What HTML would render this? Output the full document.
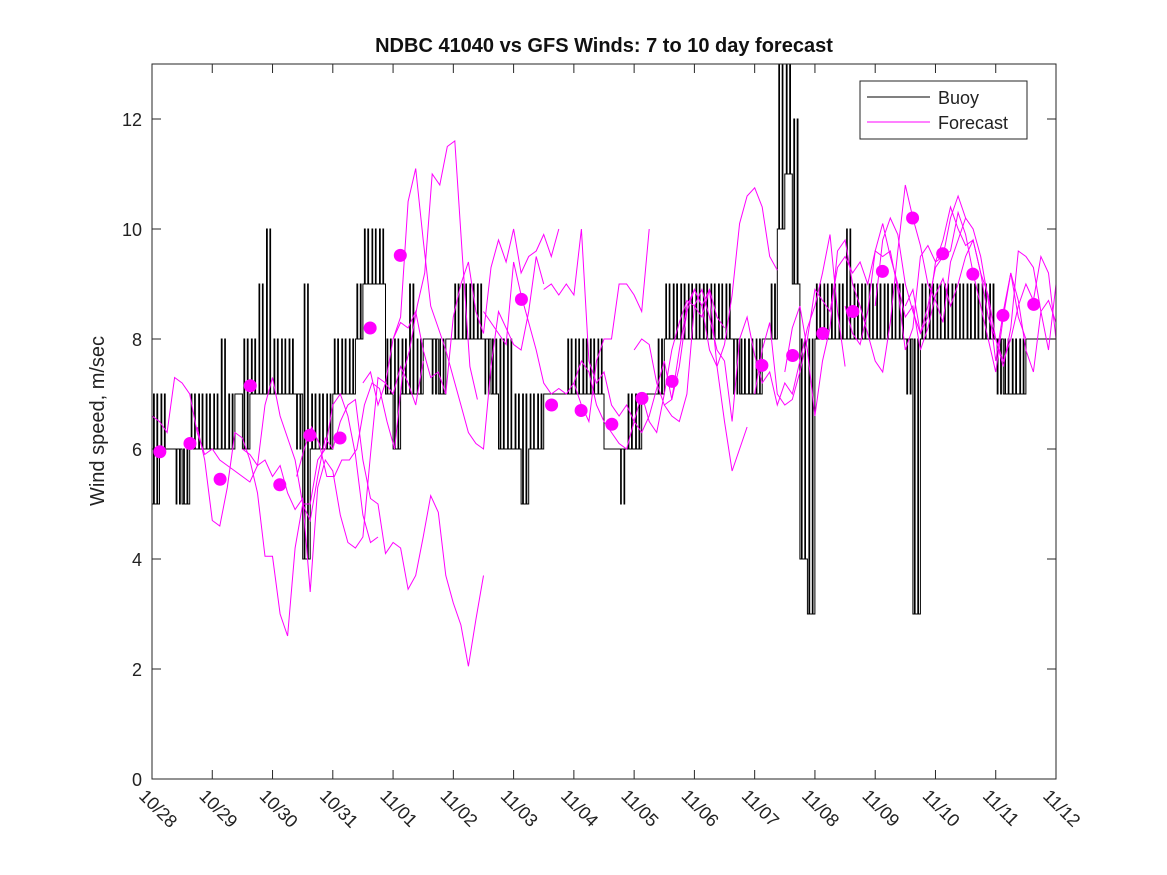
<!DOCTYPE html>
<html><head><meta charset="utf-8"><style>
body{margin:0;background:#fff;}
svg{display:block;font-family:"Liberation Sans","DejaVu Sans",sans-serif;}
</style></head><body>
<svg id="chart" width="1167" height="875">
<defs><clipPath id="clip"><rect x="152" y="64" width="904" height="715"/></clipPath></defs>
<rect x="0" y="0" width="1167" height="875" fill="#fff"/>
<text x="604" y="52" text-anchor="middle" font-size="20" font-weight="bold" fill="#111">NDBC 41040 vs GFS Winds: 7 to 10 day forecast</text>
<text transform="translate(104,421) rotate(-90)" text-anchor="middle" font-size="20" fill="#222">Wind speed, m/sec</text>
<g id="axes"></g>
<g id="plot" clip-path="url(#clip)"></g>
<rect x="152" y="64" width="904" height="715" fill="none" stroke="#262626" stroke-width="1"/>
<g>
<rect x="860" y="81" width="167" height="58" fill="#fff" stroke="#262626"/>
<line x1="867" y1="97" x2="930" y2="97" stroke="#000"/>
<text x="938" y="104" font-size="18" fill="#222">Buoy</text>
<line x1="867" y1="122" x2="930" y2="122" stroke="#f0f"/>
<text x="938" y="129" font-size="18" fill="#222">Forecast</text>
</g>
</svg>
<script>
const xTickLabels=["10/28","10/29","10/30","10/31","11/01","11/02","11/03","11/04","11/05","11/06","11/07","11/08","11/09","11/10","11/11","11/12"];
const yTicks=[0,2,4,6,8,10,12];
const buoyLo=[5,6,6,5,5,6,6,6, 6,6,6,7,6,7,7,7, 7,7,7,6,4,6,6,6, 7,7,7,8,9,9,9,7, 6,7,7,7,8,7,7,8, 8,8,8,8,7,7,6,6, 6,5,6,6,7,7,7,7, 7,7,7,7,6,6,5,6, 6,7,7,7,8,8,8,8, 8,8,8,8,8,7,7,7, 7,8,8,10,11,9,4,3, 8,8,8,8,8,8,8,8, 8,8,8,8,7,3,8,8, 8,8,8,8,8,8,8,8, 7,7,7,7,8,8,8,8];
const buoyHi=[7,7,6,6,6,7,7,7, 7,8,7,7,8,8,9,10, 8,8,8,7,9,7,7,7, 8,8,8,9,10,10,10,8, 8,8,9,8,8,8,8,8, 9,9,9,9,8,8,8,8, 7,7,7,7,7,7,7,8, 8,8,8,8,6,6,6,7, 7,7,7,8,9,9,9,9, 9,9,9,9,9,8,8,8, 8,8,9,13,13,12,8,8, 9,9,9,9,10,9,9,9, 9,9,9,9,8,8,9,9, 9,9,9,9,9,9,9,9, 8,8,8,8,8,8,8,8];
const fcStarts=[0.0,0.75,1.5,2.4,3.0,3.5,4.0,5.5,6.5,7.0,8.0,8.5,10.0,10.5,11.5,12.0,12.5,13.0];
const fcValues=[
[6.6,6.5,6.3,7.3,7.2,7.0,6.3,5.9,6.0,5.8,5.7,5.6,5.5,5.4,5.7,6.8,7.3,6.6,6.2,5.8,5.0,4.7,5.5,6.2,6.0],
[6.4,5.8,4.7,4.6,5.3,6.3,6.2,5.8,5.2,4.05,4.05,3.0,2.6,4.2,5.0,5.0,5.8,6.0,6.8,7.0,6.6,5.9,4.8,4.3,4.4],
[6.0,5.9,5.7,5.8,5.5,5.7,5.2,4.9,5.1,3.4,5.3,5.8,5.6,4.8,4.3,4.2,4.4,5.9,7.3,7.2,7.0,7.5,7.2,6.8,7.6],
[5.5,6.0,6.4,6.1,5.5,5.5,5.8,5.8,6.0,6.8,7.2,7.1,6.5,6.0,7.3,7.8,8.6,9.2,11.0,10.8,11.5,11.6,9.5,7.5,6.9],
[6.0,6.5,6.8,6.9,5.8,5.1,5.0,4.1,4.3,4.2,3.45,3.7,4.4,5.15,4.85,3.7,3.2,2.8,2.05,2.9,3.7],
[7.2,7.4,6.8,7.2,8.0,8.4,10.5,11.1,9.8,8.6,8.2,7.8,7.3,6.8,6.3,6.1,6.0,7.5,8.5,8.2,7.9,7.8,8.5,9.5,9.0],
[8.0,8.3,8.2,8.5,7.8,7.3,7.4,7.0,8.4,9.0,9.4,8.5,8.1,9.3,9.8,9.4,10.0,9.2,9.5,9.6,9.9,9.5,10.0],
[8.5,8.3,8.1,7.9,9.4,8.8,8.3,7.8,7.2,7.0,7.1,7.0,7.2,6.8,6.5,7.6,8.0,8.0,9.0,9.0,8.8,8.5,10.0],
[8.9,9.0,8.8,9.0,8.8,10.0,7.6,7.2,7.4,6.8,6.6,6.8,6.5,6.3,6.6,7.1,7.6,6.9,7.8,8.6,8.9,8.6,8.9,8.4,8.2],
[7.2,7.6,7.4,6.8,6.5,6.3,6.1,6.0,6.5,7.0,6.5,6.3,7.0,7.8,8.3,8.7,8.6,8.4,8.9,7.5,6.5,5.6,6.0,6.4],
[7.8,8.0,7.9,7.2,6.8,6.9,7.5,8.5,8.9,8.6,7.8,7.5,7.9,8.8,10.1,10.6,10.75,10.4,9.5,9.25],
[6.8,6.6,6.5,7.0,8.6,8.9,8.4,7.8,7.6,6.5,8.0,8.4,7.7,7.2,7.4,6.8,7.2,7.0,7.6,8.2,8.6,9.2,9.9,8.5,7.5],
[7.0,7.8,8.3,7.0,6.8,6.9,7.4,8.0,8.9,8.7,8.5,9.3,9.5,9.2,9.4,9.0,9.6,10.1,9.5,9.0,8.4,8.6,7.8,8.2,8.8],
[7.4,8.2,8.6,7.8,6.6,7.6,8.2,9.6,9.8,9.0,8.6,8.1,7.6,7.4,8.3,9.6,10.8,10.2,9.7,9.0,8.7,8.3,9.4,9.8,10.2],
[8.6,8.1,7.9,8.5,9.6,9.5,9.6,8.9,7.8,8.2,9.5,9.7,9.4,9.5,10.2,10.6,10.2,10.0,9.5,8.7,7.6,8.5,9.2,8.4,8.0],
[8.6,9.8,10.2,9.9,9.0,8.5,8.1,8.4,9.4,9.8,10.4,10.0,9.7,9.8,9.2,8.4,8.0,7.5,8.2,9.6,9.5,9.3,8.5,7.8,9.0],
[8.6,8.9,8.1,8.6,9.3,9.5,9.6,10.3,9.9,9.2,8.6,8.0,7.4,8.4,9.2,8.7,7.8,7.4,8.5,8.7,8.3,8.1,7.4,8.0],
[8.8,9.1,8.6,9.0,9.5,9.8,9.2,8.8,8.0,7.6,8.0,8.6,9.0,8.7,9.5,9.2,8.0,7.0,8.4,9.0,7.8,8.3,9.0]];
const dotDays=[0.13,0.63,1.13,1.63,2.12,2.62,3.12,3.62,4.12,6.13,6.63,7.12,7.63,8.13,8.63,10.12,10.63,11.13,11.63,12.12,12.62,13.12,13.62,14.12,14.63];
const dotValues=[5.95,6.1,5.45,7.15,5.35,6.25,6.2,8.2,9.52,8.72,6.8,6.7,6.45,6.92,7.23,7.52,7.7,8.1,8.5,9.23,10.2,9.55,9.18,8.43,8.63];

const NS="http://www.w3.org/2000/svg";
const X0=152,X1=1056,Y0=779,Y1=64,DAYS=15,YMAX=13;
const xs=d=>X0+(X1-X0)*d/DAYS;
const ys=v=>Y0-(Y0-Y1)*v/YMAX;
const axes=document.getElementById('axes');
const plot=document.getElementById('plot');
function mk(tag,attrs,parent){const e=document.createElementNS(NS,tag);for(const k in attrs)e.setAttribute(k,attrs[k]);parent.appendChild(e);return e;}

yTicks.forEach(v=>{
  const y=ys(v);
  const l=mk('line',{x1:X0,x2:X0+9,y1:y,y2:y,stroke:'#262626'},axes);
  
  
  const r=mk('line',{x1:X1-9,x2:X1,y1:y,y2:y,stroke:'#262626'},axes);
  
  
  const t=mk('text',{x:X0-10,y:y+7,'text-anchor':'end','font-size':18,fill:'#222'},axes);
  t.textContent=v;
  
  
});
xTickLabels.forEach((lab,i)=>{
  const x=xs(i);
  const l=mk('line',{x1:x,x2:x,y1:Y0,y2:Y0-9,stroke:'#262626'},axes);
  
  
  const t2=mk('line',{x1:x,x2:x,y1:Y1,y2:Y1+9,stroke:'#262626'},axes);
  
  
  const t=mk('text',{transform:`translate(${x-14},${Y0+18}) rotate(45)`,'font-size':18,fill:'#222'},axes);
  t.textContent=lab;
  
  
});

// buoy stepped line: base level lo with narrow spikes to hi
const STEP=0.125;
let d='';
const fr=[0,0.2,0.3,0.65,0.75,1];
buoyLo.forEach((lo,i)=>{
  const hi=buoyHi[i];
  const xa=xs(i*STEP),xb=xs((i+1)*STEP);
  const base=(i>0 && buoyLo[i-1]===hi)?hi:lo;
  const other=base===hi?lo:hi;
  const lv=lo===hi?[lo,lo,lo,lo,lo]:[base,other,base,other,base];
  for(let k=0;k<5;k++){
    const xx=xa+(xb-xa)*fr[k], xn=xa+(xb-xa)*fr[k+1];
    d+=(d?'L':'M')+xx.toFixed(1)+','+ys(lv[k]).toFixed(1)+'L'+xn.toFixed(1)+','+ys(lv[k]).toFixed(1);
  }
});
const bp=mk('path',{d:d,fill:'none',stroke:'#000','stroke-width':1},plot);



fcValues.forEach((vals,j)=>{
  const pts=vals.map((v,i)=>xs(fcStarts[j]+i*STEP).toFixed(1)+','+ys(v).toFixed(1)).join(' ');
  const p=mk('polyline',{points:pts,fill:'none',stroke:'#ff00ff','stroke-width':1},plot);
  
  
});
dotDays.forEach((dd,i)=>{
  const c=mk('circle',{cx:xs(dd),cy:ys(dotValues[i]),r:6.5,fill:'#ff00ff'},plot);
  
  
});
</script>
</body></html>
